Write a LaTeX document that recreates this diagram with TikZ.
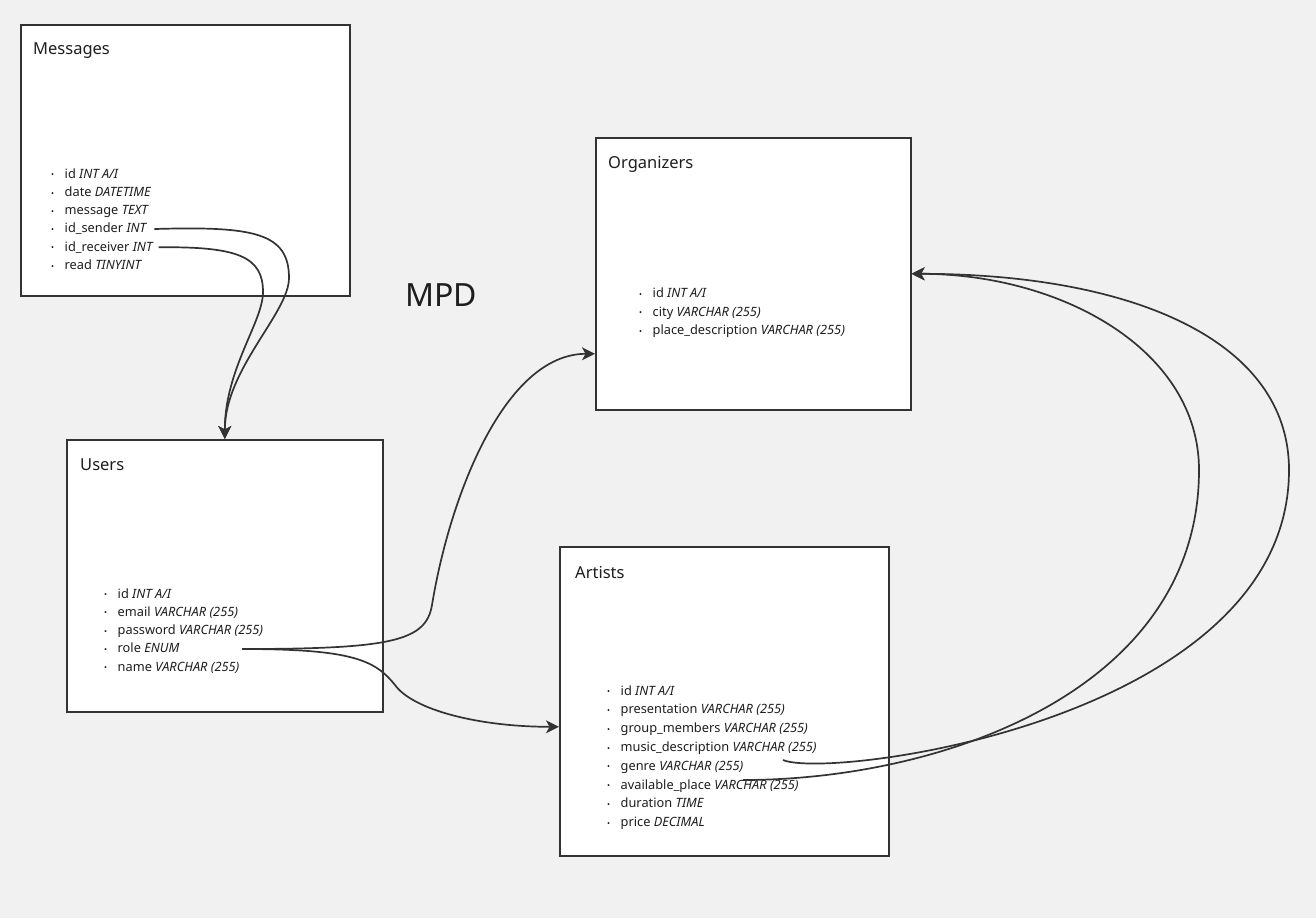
\documentclass[tikz,border=0pt]{standalone}
\usepackage{fontspec}
\setmainfont{Noto Sans}
\usetikzlibrary{arrows.meta}
\definecolor{paper}{HTML}{F1F1F1}
\definecolor{edge}{HTML}{333333}
\definecolor{ink}{HTML}{1E1E1E}
\newcommand{\fld}[2]{\makebox[13.5pt][l]{\raisebox{.3pt}{\footnotesize\textbullet}}#1 \textit{#2}}

\begin{document}
\begin{tikzpicture}[x=1pt,y=-1pt,
        table/.style={draw=edge,fill=white,line width=1.6pt,anchor=north west,inner sep=0pt},
        title/.style={anchor=base west,inner sep=0pt,text=ink,font=\fontsize{16.5}{20}\selectfont},
        field/.style={anchor=base west,inner sep=0pt,text=ink,font=\fontsize{12.8}{15}\selectfont},
        link/.style={draw=edge,line width=1.7pt,-{Stealth[length=13pt,width=13pt,inset=3.5pt]}}]

    \fill[paper] (0,0) rectangle (1316,918);
    \useasboundingbox (0,0) rectangle (1316,918);

    % tables
    \node[table,minimum width=329pt,minimum height=271pt] (messages) at (20,24) {};
    \node[table,minimum width=315pt,minimum height=272pt] (organizers) at (595,137) {};
    \node[table,minimum width=316pt,minimum height=272pt] (users) at (66,439) {};
    \node[table,minimum width=329pt,minimum height=309pt] (artists) at (559,546) {};

    \node[title] (messages-title) at (33,54) {Messages};
    \node[title] (organizers-title) at (608,168) {Organizers};
    \node[title] (users-title) at (80,470) {Users};
    \node[title] (artists-title) at (575,578) {Artists};

    \node[anchor=base west,inner sep=0pt,text=ink,font=\fontsize{32}{36}\selectfont] (mpd) at (405,306) {MPD};

    % fields
    \foreach \f/\t [count=\i] in {id/{INT A/I},date/DATETIME,message/TEXT,id\_sender/INT,id\_receiver/INT,read/TINYINT}
        \node[field] (msg\i) at (51,{159.7+18.3*\i}) {\fld{\f}{\t}};
    \foreach \f/\t [count=\i] in {id/{INT A/I},city/{VARCHAR (255)},place\_description/{VARCHAR (255)}}
        \node[field] (org\i) at (639,{279.5+18.3*\i}) {\fld{\f}{\t}};
    \foreach \f/\t [count=\i] in {id/{INT A/I},email/{VARCHAR (255)},password/{VARCHAR (255)},role/ENUM,name/{VARCHAR (255)}}
        \node[field] (usr\i) at (104,{579.75+18.25*\i}) {\fld{\f}{\t}};
    \foreach \f/\t [count=\i] in {id/{INT A/I},presentation/{VARCHAR (255)},group\_members/{VARCHAR (255)},music\_description/{VARCHAR (255)},genre/{VARCHAR (255)},available\_place/{VARCHAR (255)},duration/TIME,price/DECIMAL}
        \node[field] (art\i) at (607,{676.2+18.8*\i}) {\fld{\f}{\t}};

    % loose ends
    \coordinate (role-end) at (242,649);
    \coordinate (music-end) at (783,760);
    \coordinate (place-end) at (743,780);

    % links
    \draw[link] ([xshift=7pt]msg4.east) .. controls +(100,-3) and +(0,-45) .. (289,278)
        .. controls +(0,35) and +(0,-70) .. (users.north);
    \draw[link] ([xshift=5pt]msg5.east) .. controls +(80,-1) and +(0,-35) .. (263,292)
        .. controls +(0,30) and +(0,-70) .. (users.north);
    \draw[link] (role-end) .. controls +(150,0) and +(-6,36) .. (432,605)
        .. controls +(18,-110) and +(-90,0) .. ([yshift=-80pt]organizers.west);
    \draw[link] (role-end) .. controls +(110,0) and +(-20,-25) .. (395,685)
        .. controls +(18,25) and +(-80,0) .. ([yshift=-25.5pt]artists.west);
    \draw[link] (music-end) .. controls (830,780) and (1289,720) .. (1289,470)
        .. controls +(0,-130) and +(220,0) .. (organizers.east);
    \draw[link] (place-end) .. controls +(200,0) and +(0,220) .. (1199,470)
        .. controls +(0,-120) and +(150,0) .. (organizers.east);
\end{tikzpicture}
\end{document}
